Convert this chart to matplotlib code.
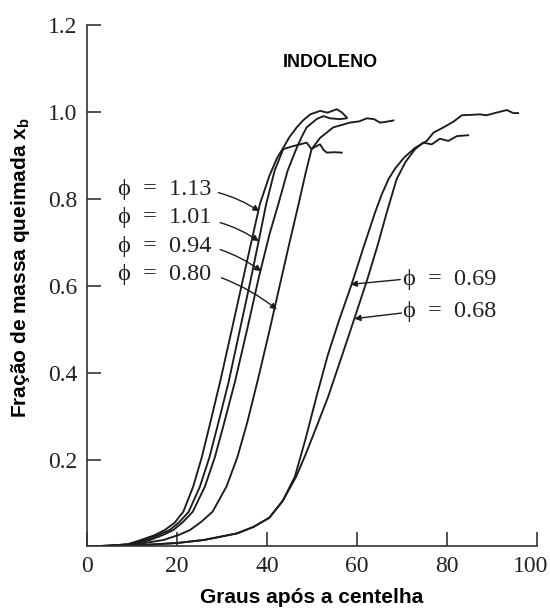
import matplotlib
matplotlib.use("Agg")
import matplotlib.pyplot as plt
from matplotlib.transforms import ScaledTranslation

plt.rcParams['mathtext.fontset'] = 'custom'
plt.rcParams['mathtext.rm'] = 'Liberation Sans'
plt.rcParams['mathtext.bf'] = 'Liberation Sans:bold'

# ---- data ----
phi113_x = [0, 5, 9, 12, 15, 17.3, 19.5, 21.4, 23.6, 25.5, 27.4, 29.6, 32.2, 35.2, 38.4, 40.5, 42.2, 43.6, 45.0, 46.6, 48.0, 49.6, 51.8, 53.5, 55.5, 56.7, 57.7]
phi113_y = [0, 0.002, 0.005, 0.015, 0.026, 0.038, 0.055, 0.08, 0.138, 0.205, 0.285, 0.38, 0.50, 0.64, 0.787, 0.852, 0.893, 0.917, 0.942, 0.964, 0.98, 0.994, 1.002, 0.998, 1.006, 0.998, 0.987]

phi101_x = [0, 5, 9, 13, 16, 18.4, 20.5, 22.6, 25.1, 27.2, 29.2, 31.5, 34.0, 36.3, 38.1, 39.8, 41.7, 43.6, 45.5, 47.3, 48.8, 49.9, 50.8, 51.8, 52.6, 53.3, 55.0, 56.6]
phi101_y = [0, 0.002, 0.005, 0.015, 0.027, 0.038, 0.056, 0.08, 0.138, 0.205, 0.285, 0.38, 0.50, 0.61, 0.70, 0.787, 0.865, 0.914, 0.92, 0.925, 0.929, 0.914, 0.92, 0.925, 0.912, 0.906, 0.907, 0.906]

phi094_x = [0, 5, 10, 14, 17, 19.2, 21.3, 23.5, 26.2, 28.4, 30.5, 32.9, 35.6, 38.2, 40.6, 42.5, 44.6, 46.6, 47.6, 48.8, 51.0, 52.5, 54.0, 56.2, 57.7]
phi094_y = [0, 0.002, 0.005, 0.015, 0.027, 0.038, 0.056, 0.08, 0.138, 0.205, 0.285, 0.38, 0.50, 0.62, 0.72, 0.787, 0.865, 0.917, 0.94, 0.964, 0.983, 0.99, 0.985, 0.983, 0.985]

phi080_x = [0, 6, 11, 17, 20.5, 22.9, 25.3, 27.9, 31.0, 33.4, 35.6, 38.0, 40.4, 42.6, 44.8, 47.0, 48.6, 49.9, 51.8, 54.7, 58.4, 60.5, 62.2, 63.8, 65.1, 66.5, 68.1]
phi080_y = [0, 0.002, 0.005, 0.015, 0.027, 0.038, 0.056, 0.08, 0.138, 0.205, 0.285, 0.385, 0.49, 0.59, 0.69, 0.787, 0.86, 0.914, 0.94, 0.964, 0.975, 0.978, 0.985, 0.983, 0.975, 0.977, 0.98]

phi069_x = [0, 10, 20, 26, 33.3, 37, 40.5, 43.5, 46.2, 48.5, 51.0, 53.5, 56.0, 58.8, 61.5, 64.0, 65.5, 67.0, 68.5, 70.5, 72.9, 75.5, 77.0, 79.2, 81.4, 83.3, 85.5, 87.3, 88.8, 91.0, 93.3, 94.7, 95.8]
phi069_y = [0, 0.002, 0.008, 0.015, 0.03, 0.045, 0.066, 0.105, 0.161, 0.245, 0.345, 0.44, 0.52, 0.603, 0.69, 0.768, 0.81, 0.845, 0.87, 0.895, 0.917, 0.933, 0.952, 0.964, 0.977, 0.992, 0.993, 0.994, 0.992, 0.998, 1.004, 0.997, 0.997]

phi068_x = [0, 10, 20, 26, 33.3, 37, 40.5, 43.5, 46.5, 48.5, 50.8, 53.6, 56.6, 59.6, 62.3, 64.5, 66.6, 68.8, 70.8, 72.9, 74.7, 76.6, 78.4, 80.3, 82.2, 84.7]
phi068_y = [0, 0.002, 0.008, 0.015, 0.03, 0.045, 0.066, 0.105, 0.161, 0.21, 0.27, 0.345, 0.437, 0.53, 0.615, 0.69, 0.768, 0.845, 0.885, 0.914, 0.929, 0.925, 0.938, 0.933, 0.944, 0.946]

labels_left = ["ϕ  =  1.13", "ϕ  =  1.01", "ϕ  =  0.94", "ϕ  =  0.80"]
labels_right = ["ϕ  =  0.69", "ϕ  =  0.68"]
xticks = [0, 20, 40, 60, 80, 100]
yticks = [0.2, 0.4, 0.6, 0.8, 1.0, 1.2]

series = [(phi113_x, phi113_y), (phi101_x, phi101_y), (phi094_x, phi094_y),
          (phi080_x, phi080_y), (phi069_x, phi069_y), (phi068_x, phi068_y)]

# ---- figure ----
fig = plt.figure(figsize=(5.5, 6.13), dpi=100)
ax = fig.add_axes([0.1582, 0.1085, 0.8182, 0.851])
lc = '#1c1c1c'
for xs, ys in series:
    ax.plot(xs, ys, color=lc, lw=1.35, solid_joinstyle='round')

ax.set_xlim(0, 100)
ax.set_ylim(0, 1.2)
ax.set_xticks(xticks)
ax.set_yticks(yticks)
ax.set_xticklabels([str(v) for v in xticks])
ax.set_yticklabels([f"{v:.1f}" for v in yticks])
for s in ['top', 'right']:
    ax.spines[s].set_visible(False)
for s in ['left', 'bottom']:
    ax.spines[s].set_linewidth(1.2)
    ax.spines[s].set_color('#333333')
ax.tick_params(direction='in', length=10, width=1.2, color='#333333', pad=7)
serif = ['Liberation Serif', 'DejaVu Serif']
for t in ax.get_xticklabels() + ax.get_yticklabels():
    t.set_family(serif)
    t.set_fontsize(17)
    t.set_color('#222222')
# last x tick label sits slightly left of its tick, as in the reference
last = ax.get_xticklabels()[-1]
last.set_transform(last.get_transform() + ScaledTranslation(-0.06, 0, fig.dpi_scale_trans))

ax.set_xlabel("Graus após a centelha", family='Liberation Sans', fontweight='bold',
              fontsize=15, labelpad=8)
ax.set_ylabel(r"Fração de massa queimada x$_\mathbf{b}$", family='Liberation Sans',
              fontweight='bold', fontsize=15)
ax.yaxis.set_label_coords(-0.122, 0.534)

ax.text(54, 1.113, "INDOLENO", family='Liberation Sans', fontweight='bold',
        fontsize=13, ha='center', va='center')

# left labels and arrows
left_text_y = [0.821, 0.756, 0.691, 0.626]
left_start = [(29.2, 0.814), (29.6, 0.745), (29.6, 0.683), (29.9, 0.618)]
left_tip = [(38.3, 0.771), (38.2, 0.702), (38.7, 0.633), (42.2, 0.545)]
for lab, ty, st, tp in zip(labels_left, left_text_y, left_start, left_tip):
    ax.text(6.9, ty, lab, family=serif, fontsize=17.5, ha='left', va='center', color='#222222')
    ax.annotate('', xy=tp, xytext=st,
                arrowprops=dict(arrowstyle='-|>', color=lc, lw=1.0, mutation_scale=9,
                                shrinkA=0, shrinkB=0, connectionstyle='arc3,rad=-0.08'))

right_text_y = [0.614, 0.541]
right_start = [(69.6, 0.614), (69.9, 0.537)]
right_tip = [(58.6, 0.603), (59.4, 0.524)]
for lab, ty, st, tp in zip(labels_right, right_text_y, right_start, right_tip):
    ax.text(70.3, ty, lab, family=serif, fontsize=17.5, ha='left', va='center', color='#222222')
    ax.annotate('', xy=tp, xytext=st,
                arrowprops=dict(arrowstyle='-|>', color=lc, lw=1.0, mutation_scale=9,
                                shrinkA=0, shrinkB=0))

fig.savefig("out.png", dpi=100)
